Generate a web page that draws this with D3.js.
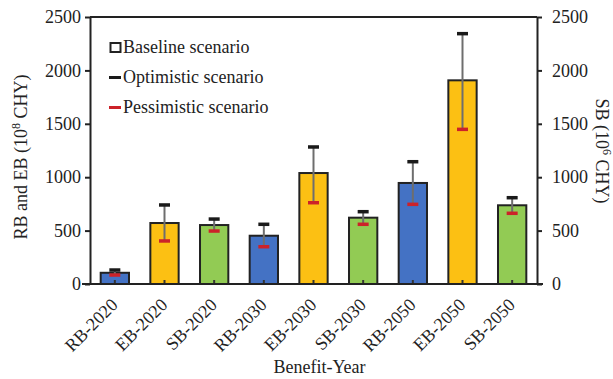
<!DOCTYPE html>
<html>
<head>
<meta charset="utf-8">
<script src="https://cdn.jsdelivr.net/npm/d3@7"></script>
<style>
  body { margin: 0; background: #fff; }
  text { font-family: "Liberation Serif", "Times New Roman", serif; fill: #222; }
</style>
</head>
<body>
<div id="chart"></div>
<script>
// benefit categories and values (10^8 CHY for RB/EB, 10^6 CHY for SB)
const categories = ["RB-2020", "EB-2020", "SB-2020", "RB-2030", "EB-2030", "SB-2030", "RB-2050", "EB-2050", "SB-2050"];
const baseline = [105, 571, 552, 452, 1039, 621, 946, 1907, 737];
const optimistic = [131, 740, 608, 559, 1283, 677, 1145, 2344, 808];
const pessimistic = [84, 403, 496, 349, 761, 559, 746, 1448, 662];
const yTicks = [0, 500, 1000, 1500, 2000, 2500];
const legendItems = ["Baseline scenario", "Optimistic scenario", "Pessimistic scenario"];

const colorFor = {RB: "#4472c4", EB: "#fcc013", SB: "#92cb54"};

const W = 613, H = 379;
const plotLeft = 90, plotRight = 537, plotTop = 17, plotBottom = 284;
const fontSize = "18px";

const svg = d3.select("#chart").append("svg")
    .attr("width", W)
    .attr("height", H);

const x = d3.scaleBand()
    .domain(categories)
    .range([plotLeft, plotRight])
    .paddingInner(0.43)
    .paddingOuter(0.215);

const y = d3.scaleLinear()
    .domain([0, 2500])
    .range([plotBottom, plotTop]);

const data = categories.map((c, i) => ({
    cat: c, type: c.slice(0, 2), value: baseline[i], hi: optimistic[i], lo: pessimistic[i]
}));

// frame top line
svg.append("line")
    .attr("x1", plotLeft).attr("x2", plotRight)
    .attr("y1", plotTop).attr("y2", plotTop)
    .attr("stroke", "#222").attr("stroke-width", 2);

// bars
svg.selectAll(".bar")
    .data(data)
    .join("rect")
    .attr("class", "bar")
    .attr("x", d => x(d.cat))
    .attr("y", d => y(d.value))
    .attr("width", x.bandwidth())
    .attr("height", d => y(0) - y(d.value))
    .attr("fill", d => colorFor[d.type])
    .attr("stroke", "#222")
    .attr("stroke-width", 2);

const cx = d => x(d.cat) + x.bandwidth() / 2;

// small stub at bar base
svg.selectAll(".stub")
    .data(data)
    .join("line")
    .attr("x1", cx).attr("x2", cx)
    .attr("y1", y(0)).attr("y2", y(0) - 4)
    .attr("stroke", "#333").attr("stroke-width", 2);

// error line from pessimistic to optimistic
svg.selectAll(".err")
    .data(data)
    .join("line")
    .attr("x1", cx).attr("x2", cx)
    .attr("y1", d => y(d.lo)).attr("y2", d => y(d.hi))
    .attr("stroke", "#6e6e6e").attr("stroke-width", 2);

svg.selectAll(".capHi")
    .data(data)
    .join("line")
    .attr("x1", d => cx(d) - 5.5).attr("x2", d => cx(d) + 5.5)
    .attr("y1", d => y(d.hi)).attr("y2", d => y(d.hi))
    .attr("stroke", "#1a1a1a").attr("stroke-width", 3.5);

svg.selectAll(".capLo")
    .data(data)
    .join("line")
    .attr("x1", d => cx(d) - 5.5).attr("x2", d => cx(d) + 5.5)
    .attr("y1", d => y(d.lo)).attr("y2", d => y(d.lo))
    .attr("stroke", "#cc2229").attr("stroke-width", 3.5);

// axes
const axisStyle = g => {
    g.select(".domain").attr("stroke", "#222").attr("stroke-width", 2);
    g.selectAll(".tick line").attr("stroke", "#222").attr("stroke-width", 2);
    g.selectAll(".tick text")
        .style("font-family", "Liberation Serif, serif")
        .style("font-size", fontSize)
        .attr("fill", "#222");
};

svg.append("g")
    .attr("transform", `translate(${plotLeft},0)`)
    .call(d3.axisLeft(y).tickValues(yTicks).tickFormat(d3.format("d"))
        .tickSize(5).tickSizeOuter(0).tickPadding(4))
    .call(axisStyle);

svg.append("g")
    .attr("transform", `translate(${plotRight},0)`)
    .call(d3.axisRight(y).tickValues(yTicks).tickFormat(d3.format("d"))
        .tickSize(5).tickSizeOuter(0).tickPadding(10))
    .call(axisStyle);

const xAxis = svg.append("g")
    .attr("transform", `translate(0,${plotBottom})`)
    .call(d3.axisBottom(x).tickSize(0).tickSizeOuter(0))
    .call(axisStyle);
xAxis.select(".domain").attr("d", `M${plotLeft - 8},0H${plotRight + 6}`);
xAxis.selectAll(".tick text")
    .attr("text-anchor", "end")
    .attr("transform", "translate(4,22) rotate(-45)")
    .attr("dy", 0)
    .attr("x", 0).attr("y", 0);

// axis titles
svg.append("text")
    .attr("x", (plotLeft + plotRight) / 2 + 6).attr("y", 373)
    .attr("text-anchor", "middle")
    .style("font-size", fontSize)
    .text("Benefit-Year");

const yl = svg.append("text")
    .attr("transform", "translate(27,157) rotate(-90)")
    .attr("text-anchor", "middle")
    .style("font-size", fontSize);
yl.append("tspan").text("RB and EB (10");
yl.append("tspan").attr("dy", -7).style("font-size", "12px").text("8");
yl.append("tspan").attr("dy", 7).text(" CHY)");

const yr = svg.append("text")
    .attr("transform", "translate(596,151) rotate(90)")
    .attr("text-anchor", "middle")
    .style("font-size", fontSize);
yr.append("tspan").text("SB (10");
yr.append("tspan").attr("dy", -7).style("font-size", "12px").text("6");
yr.append("tspan").attr("dy", 7).text(" CHY)");

// legend
const lg = svg.append("g");
lg.append("rect")
    .attr("x", 110.5).attr("y", 43).attr("width", 10).attr("height", 9)
    .attr("fill", "none").attr("stroke", "#222").attr("stroke-width", 2);
lg.append("line")
    .attr("x1", 109).attr("x2", 121).attr("y1", 77.5).attr("y2", 77.5)
    .attr("stroke", "#1a1a1a").attr("stroke-width", 3);
lg.append("line")
    .attr("x1", 109).attr("x2", 121).attr("y1", 107.5).attr("y2", 107.5)
    .attr("stroke", "#cc2229").attr("stroke-width", 3);
lg.selectAll(".lt")
    .data(legendItems)
    .join("text")
    .attr("x", 123)
    .attr("y", (d, i) => 53 + i * 30)
    .style("font-size", fontSize)
    .text(d => d);
</script>
</body>
</html>
